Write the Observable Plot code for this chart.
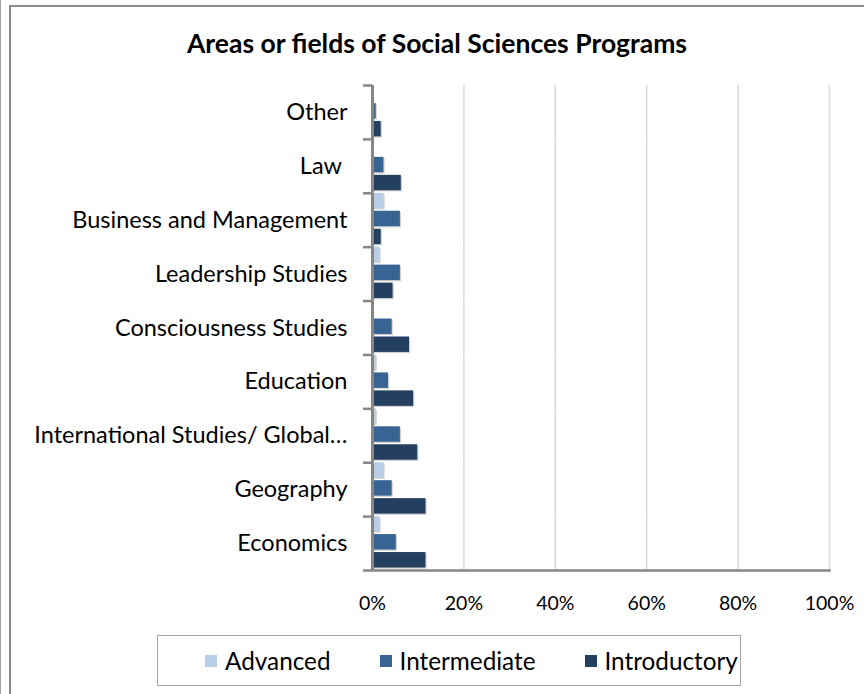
<!DOCTYPE html>
<html>
<head>
<meta charset="utf-8">
<script src="https://cdn.jsdelivr.net/npm/d3@7"></script>
<script src="https://cdn.jsdelivr.net/npm/@observablehq/plot@0.6"></script>
<style>
  html, body { margin: 0; padding: 0; background: #fff; }
  #wrap { position: relative; width: 864px; height: 694px; overflow: hidden; background: #fff; font-family: Lato, sans-serif; }
  #pageline { position: absolute; left: 0; top: 0; width: 1px; height: 694px; background: #a0a0a0; }
  #frame { position: absolute; left: 9px; top: 5px; width: 900px; height: 720px; border-left: 2px solid #8c8c8c; border-top: 2px solid #8c8c8c; }
  #title { position: absolute; left: 10px; right: 0; top: 27px; text-align: center; font-weight: bold; font-size: 26.5px; color: #000; }
  #chart { position: absolute; left: 0; top: 0; }
  #legend { position: absolute; left: 157px; top: 635px; width: 584px; height: 51px; border: 1.5px solid #a6a6a6; box-sizing: border-box; display: flex; align-items: center; justify-content: flex-start; padding-left: 47px; gap: 49px; font-size: 24.3px; color: #000; background: #fff; }
  .item { display: flex; align-items: center; gap: 8px; }
  .sw { width: 12px; height: 12px; display: inline-block; }
</style>
</head>
<body>
<div id="wrap">
  <div id="pageline"></div>
  <div id="frame"></div>
  <div id="chart"></div>
  <div id="title">Areas or fields of Social Sciences Programs</div>
  <div id="legend"></div>
</div>
<script>
const categories = ["Other", "Law\u00a0", "Business and Management", "Leadership Studies", "Consciousness Studies", "Education", "International Studies/ Global\u2026", "Geography", "Economics"];
const series = ["Advanced", "Intermediate", "Introductory"];
const advanced     = [0,   0,   2.5, 1.6, 0,   0.8, 0.8, 2.5, 1.6];
const intermediate = [0.8, 2.5, 6.1, 6.1, 4.3, 3.5, 6.1, 4.3, 5.2];
const introductory = [1.9, 6.3, 1.9, 4.5, 8.1, 9.0, 9.9, 11.7, 11.7];
const xTicks = [0, 20, 40, 60, 80, 100];
const colors = ["#b9cde5", "#386494", "#243f60"];

const values = [advanced, intermediate, introductory];
const rows = [];
categories.forEach((c, i) => series.forEach((s, j) => rows.push({category: c, series: s, value: values[j][i]})));

const W = 864, H = 694, mt = 85, mb = 124, ml = 372, mr = 35;
const step = (H - mt - mb) / categories.length;

const chart = Plot.plot({
  width: W, height: H,
  marginTop: mt, marginBottom: mb, marginLeft: ml, marginRight: mr,
  style: {fontFamily: "Lato, sans-serif", color: "#000", background: "transparent", overflow: "visible"},
  x: {domain: [0, 100], axis: null},
  y: {domain: series, axis: null, paddingInner: 0.14, paddingOuter: 0.07, align: 0, round: false},
  fy: {domain: categories, padding: 0, axis: null, round: false},
  color: {domain: series, range: colors},
  marks: [
    Plot.gridX(xTicks.slice(1), {stroke: "#d9d9d9", strokeOpacity: 1, strokeWidth: 1.5}),
    Plot.barX(rows, {fy: "category", y: "series", x: "value", fill: "#9a9a9a", fillOpacity: 0.45, dx: 1.2, dy: 1.2}),
    Plot.barX(rows, {fy: "category", y: "series", x: "value", fill: "series"}),
    Plot.ruleX([0], {stroke: "#868686", strokeWidth: 3}),
    Plot.frame({anchor: "bottom", facetAnchor: "bottom", stroke: "#868686", strokeWidth: 2.5}),
    Plot.axisX({ticks: xTicks, tickFormat: d => d + "%", tickSize: 0, tickPadding: 26, fontSize: 19.5, label: null}),
    Plot.axisFy({anchor: "left", tickSize: 0, tickPadding: 25, fontSize: 23.5, label: null}),
    Plot.axisFy({anchor: "left", tickSize: 9, tickFormat: () => "", label: null, dy: -step / 2, stroke: "#868686", strokeWidth: 2.5}),
    Plot.axisFy({anchor: "left", ticks: [categories[categories.length - 1]], tickSize: 9, tickFormat: () => "", label: null, dy: step / 2, stroke: "#868686", strokeWidth: 2.5})
  ]
});
document.getElementById("chart").appendChild(chart);

const legend = document.getElementById("legend");
series.forEach((s, i) => {
  const item = document.createElement("span");
  item.className = "item";
  const sw = document.createElement("span");
  sw.className = "sw";
  sw.style.background = colors[i];
  item.appendChild(sw);
  item.appendChild(document.createTextNode(s));
  legend.appendChild(item);
});
</script>
</body>
</html>
